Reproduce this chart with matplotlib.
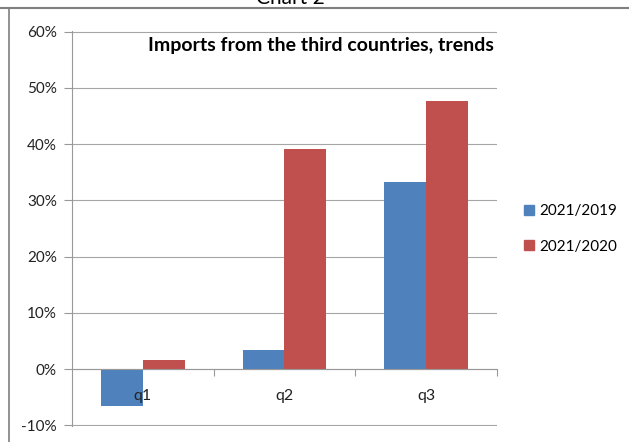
import numpy as np
import matplotlib
matplotlib.use("Agg")
import matplotlib.pyplot as plt
from matplotlib.ticker import FuncFormatter
from matplotlib.lines import Line2D

plt.rcParams['font.family'] = ['Lato', 'DejaVu Sans']

quarters = ['q1', 'q2', 'q3']
vs_2019 = [-6.6, 3.4, 33.2]
vs_2020 = [1.6, 39.2, 47.7]
series_names = ['2021/2019', '2021/2020']
colors = ['#4F81BD', '#C0504D']

fig = plt.figure(figsize=(6.29, 4.42), dpi=100)
ax = fig.add_axes([0.1145, 0.0362, 0.6755, 0.8937])

x = np.arange(len(quarters))
w = 0.296
ax.bar(x - w/2, vs_2019, w, color=colors[0], zorder=2)
ax.bar(x + w/2, vs_2020, w, color=colors[1], zorder=2)

ax.set_xlim(-0.5, 2.5)
ax.set_ylim(-10.1, 60.1)
ax.set_yticks(np.arange(-10, 61, 10))
ax.yaxis.set_major_formatter(FuncFormatter(lambda v, p: '%d%%' % v))
ax.tick_params(axis='y', length=6, color='#999999', labelsize=11, pad=5, labelcolor='#222222')
ax.yaxis.grid(True, color='#a6a6a6', linewidth=0.8)
ax.set_axisbelow(True)

# category axis crosses at zero, with ticks between the groups
ax.spines['bottom'].set_position(('data', 0))
ax.spines['bottom'].set_color('#999999')
ax.spines['bottom'].set_zorder(3)
ax.set_xticks([0.5, 1.5, 2.5])
ax.set_xticklabels([])
ax.tick_params(axis='x', length=5, color='#999999', direction='out')
for i, q in enumerate(quarters):
    ax.text(i, -4.7, q, ha='center', va='center', fontsize=11.5, color='#222222', zorder=5)

ax.spines['left'].set_color('#999999')
ax.spines['top'].set_visible(False)
ax.spines['right'].set_visible(False)

ax.text(0.586, 0.985, 'Imports from the third countries, trends', transform=ax.transAxes,
        ha='center', va='top', fontsize=14, fontweight='bold')

handles = [Line2D([], [], marker='s', linestyle='none', markersize=7, color=c) for c in colors]
fig.legend(handles, series_names, loc='center left', bbox_to_anchor=(0.832, 0.482),
           frameon=False, fontsize=11, borderpad=0, borderaxespad=0,
           handlelength=0.8, handletextpad=0.25, labelspacing=1.4)

# outer frame and cut-off caption
fig.add_artist(Line2D([0, 1], [1 - 8/442, 1 - 8/442], transform=fig.transFigure, color='#7f7f7f', linewidth=1.5))
fig.add_artist(Line2D([9/629, 9/629], [0, 1 - 8/442], transform=fig.transFigure, color='#7f7f7f', linewidth=1.2))
fig.text(0.462, 1 - 4/442, 'Chart 2', ha='center', va='baseline', fontsize=15)

fig.savefig('out.png', dpi=100)
